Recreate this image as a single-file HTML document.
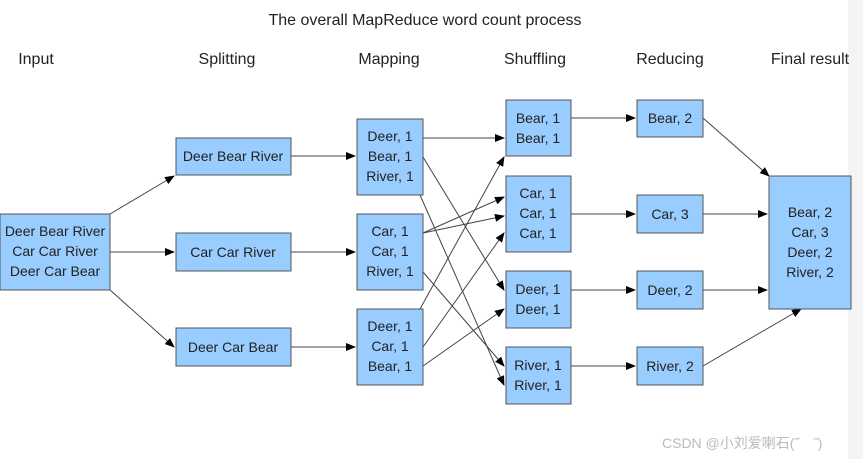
<!DOCTYPE html>
<html><head><meta charset="utf-8"><style>
body{margin:0;background:#fff;width:863px;height:459px;overflow:hidden;font-family:"Liberation Sans","Noto Sans CJK SC",sans-serif;}
</style></head><body>
<svg width="863" height="459" xmlns="http://www.w3.org/2000/svg" font-family="Liberation Sans, Noto Sans CJK SC, sans-serif">
<defs><marker id="a" markerWidth="10" markerHeight="8" refX="9" refY="4" orient="auto" markerUnits="userSpaceOnUse"><path d="M0,0 L10,4 L0,8 z" fill="#000"/></marker></defs>
<rect x="848" y="0" width="15" height="459" fill="#f4f4f4"/>
<text x="425" y="25" font-size="16" text-anchor="middle" fill="#222">The overall MapReduce word count process</text>
<g font-size="16" fill="#222" text-anchor="middle">
<text x="36" y="64">Input</text><text x="227" y="64">Splitting</text><text x="389" y="64">Mapping</text><text x="535" y="64">Shuffling</text><text x="670" y="64">Reducing</text><text x="810" y="64">Final result</text>
</g>
<g stroke="#444" stroke-width="1" fill="none" marker-end="url(#a)">
<line x1="110" y1="214" x2="174" y2="176"/>
<line x1="110" y1="252" x2="174" y2="252"/>
<line x1="110" y1="290" x2="174" y2="347"/>
<line x1="291" y1="156" x2="355" y2="156"/>
<line x1="291" y1="252" x2="355" y2="252"/>
<line x1="291" y1="347" x2="355" y2="347"/>
<line x1="423" y1="138" x2="504" y2="138"/>
<line x1="423" y1="157" x2="504" y2="290"/>
<line x1="420" y1="195" x2="504" y2="385"/>
<line x1="423" y1="233" x2="504" y2="197"/>
<line x1="423" y1="233" x2="504" y2="216"/>
<line x1="423" y1="272" x2="504" y2="366"/>
<line x1="420" y1="309" x2="504" y2="157"/>
<line x1="423" y1="347" x2="504" y2="233"/>
<line x1="423" y1="366" x2="504" y2="309"/>
<line x1="571" y1="118" x2="635" y2="118"/>
<line x1="571" y1="214" x2="635" y2="214"/>
<line x1="571" y1="290" x2="635" y2="290"/>
<line x1="571" y1="366" x2="635" y2="366"/>
<line x1="703" y1="118" x2="769" y2="176"/>
<line x1="703" y1="214" x2="767" y2="214"/>
<line x1="703" y1="290" x2="767" y2="290"/>
<line x1="703" y1="366" x2="801" y2="309"/>
</g>
<g fill="#99ccff" stroke="#555" stroke-width="1">
<rect x="0" y="214" width="110" height="76"/>
<rect x="176" y="138" width="115" height="37"/><rect x="176" y="233" width="115" height="38"/><rect x="176" y="328" width="115" height="38"/>
<rect x="357" y="119" width="66" height="76"/><rect x="357" y="214" width="66" height="76"/><rect x="357" y="309" width="66" height="76"/>
<rect x="506" y="100" width="65" height="56"/><rect x="506" y="176" width="65" height="76"/><rect x="506" y="271" width="65" height="57"/><rect x="506" y="347" width="65" height="57"/>
<rect x="637" y="100" width="66" height="37"/><rect x="637" y="195" width="66" height="38"/><rect x="637" y="271" width="66" height="38"/><rect x="637" y="347" width="66" height="38"/>
<rect x="769" y="176" width="82" height="133"/>
</g>
<g font-size="14" fill="#222" text-anchor="middle">
<text x="55" y="236">Deer Bear River</text><text x="55" y="256">Car Car River</text><text x="55" y="276">Deer Car Bear</text>
<text x="233" y="161">Deer Bear River</text><text x="233" y="257">Car Car River</text><text x="233" y="352">Deer Car Bear</text>
<text x="390" y="141">Deer, 1</text><text x="390" y="161">Bear, 1</text><text x="390" y="181">River, 1</text>
<text x="390" y="236">Car, 1</text><text x="390" y="256">Car, 1</text><text x="390" y="276">River, 1</text>
<text x="390" y="331">Deer, 1</text><text x="390" y="351">Car, 1</text><text x="390" y="371">Bear, 1</text>
<text x="538" y="123">Bear, 1</text><text x="538" y="143">Bear, 1</text>
<text x="538" y="198">Car, 1</text><text x="538" y="218">Car, 1</text><text x="538" y="238">Car, 1</text>
<text x="538" y="294">Deer, 1</text><text x="538" y="314">Deer, 1</text>
<text x="538" y="370">River, 1</text><text x="538" y="390">River, 1</text>
<text x="670" y="123">Bear, 2</text><text x="670" y="219">Car, 3</text><text x="670" y="295">Deer, 2</text><text x="670" y="371">River, 2</text>
<text x="810" y="217">Bear, 2</text><text x="810" y="237">Car, 3</text><text x="810" y="257">Deer, 2</text><text x="810" y="277">River, 2</text>
</g>
<text x="662" y="448" font-size="14" fill="#bbb">CSDN @小刘爱喇石(˝　˝)</text>
</svg>
</body></html>
